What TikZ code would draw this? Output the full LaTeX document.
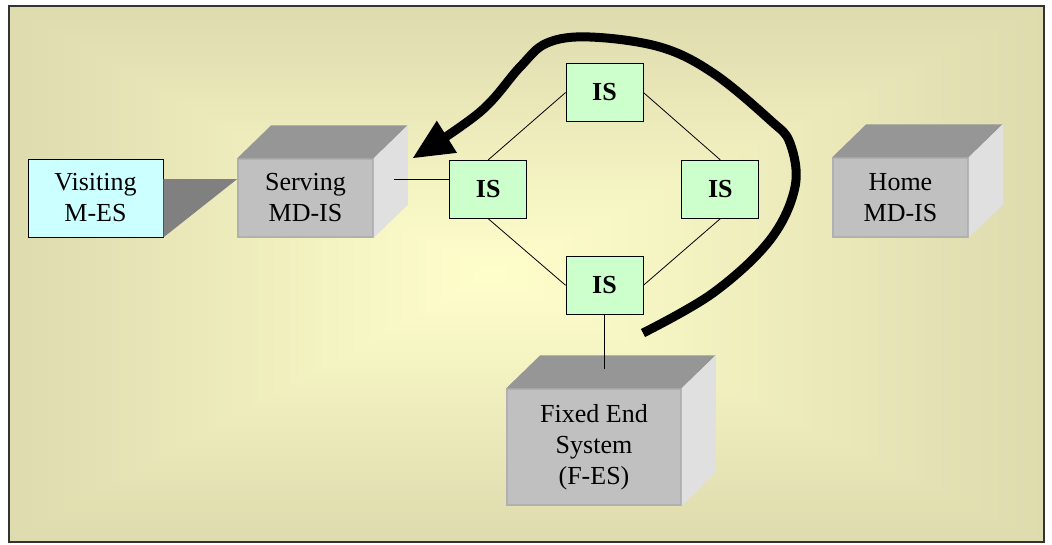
\documentclass[tikz,border=0pt]{standalone}
\usepackage{fontspec}
\setmainfont{Liberation Serif}
\usetikzlibrary{positioning}
\usetikzlibrary{arrows.meta}
\definecolor{bglight}{RGB}{255,255,204}
\definecolor{bgdark}{RGB}{222,219,174}
\definecolor{cubefront}{RGB}{192,192,192}
\definecolor{cubeedge}{RGB}{176,176,176}
\definecolor{cubetop}{RGB}{150,150,150}
\definecolor{cubeside}{RGB}{224,224,224}
\definecolor{isgreen}{RGB}{204,255,204}
\definecolor{mescyan}{RGB}{204,255,255}
\definecolor{wedgegray}{RGB}{128,128,128}
\definecolor{framegray}{RGB}{51,51,51}
\newcommand{\cubefaces}[1]{%
  \fill[cubetop] (#1.north west) -- ++(34,-33) -- ([shift={(34,-33)}]#1.north east) -- (#1.north east) -- cycle;
  \fill[cubeside] (#1.north east) -- ++(34,-33) -- ([shift={(34,-33)}]#1.south east) -- (#1.south east) -- cycle;
}

\begin{document}
\begin{tikzpicture}[x=1pt,y=-1pt,
  every node/.append style={align=center,inner sep=0pt,font=\fontsize{26}{31}\selectfont},
  cube/.style={fill=cubefront,draw=cubeedge,line width=1.5pt},
  isbox/.style={fill=isgreen,draw,line width=0.8pt,minimum width=77pt,minimum height=58pt,font=\bfseries\fontsize{26}{31}\selectfont},
  link/.style={line width=0.8pt}]
\useasboundingbox (0,0) rectangle (1052,544);
\foreach \i [evaluate=\i as \s using 1-\i/60, evaluate=\i as \p using 100*\i/60] in {0,...,60}
  \fill[bglight!\p!bgdark] ({490-481*\s},{275-269*\s}) rectangle ({490+554*\s},{275+267*\s});
\draw[framegray,line width=2pt] (9,6) rectangle (1044,542);

\node[draw,fill=mescyan,line width=0.8pt,minimum width=135pt,minimum height=78pt] (visiting) at (95.5,198) {Visiting\\M-ES};
\node[cube,minimum width=135pt,minimum height=78pt] (serving) at (305.5,198) {Serving\\MD-IS};
\node[cube,minimum width=135pt,minimum height=79pt] (home) at (900.5,197.5) {Home\\MD-IS};
\node[cube,minimum width=174pt,minimum height=116pt] (fes) at (594,447) {Fixed End\\System\\(F-ES)};
\cubefaces{serving}
\cubefaces{home}
\cubefaces{fes}
\fill[wedgegray] ([yshift=19pt]visiting.east) -- ([yshift=19pt]serving.west) -- (visiting.south east) -- cycle;

\node[isbox] (isTop) at (604.5,92.5) {IS};
\node[isbox,below left=38pt and 38.5pt of isTop] (isLeft) {IS};
\node[isbox,below right=38pt and 38pt of isTop] (isRight) {IS};
\node[isbox,below=134pt of isTop] (isBot) {IS};

\draw[link] (isTop.west) -- (isLeft.north);
\draw[link] (isTop.east) -- (isRight.north);
\draw[link] (isLeft.south) -- (isBot.west);
\draw[link] (isRight.south) -- (isBot.east);
\coordinate (srvport) at ([xshift=20pt,yshift=19pt]serving.east);
\draw[link] (srvport) -- (srvport -| isLeft.west);
\coordinate (fesport) at ([yshift=19pt]fes.north);
\draw[link] (isBot.south) -- (isBot.south |- fesport);

\coordinate (loopstart) at (643,333);
\coordinate (looptip) at (413,158);
\draw[line width=9pt,line join=round,-{Triangle[length=40pt,width=38pt,line width=0pt]}] plot[smooth,tension=0.6] coordinates {(loopstart) (713,293) (770,240) (795,187) (790,143) (770,120) (713,73) (660,47) (590,37) (547,43) (520,67) (480,112) (looptip)};
\end{tikzpicture}
\end{document}
